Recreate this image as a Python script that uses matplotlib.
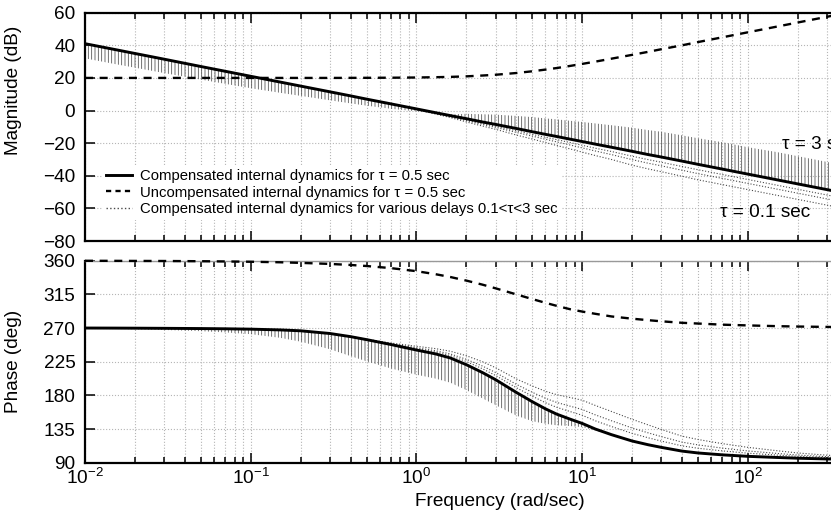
import matplotlib
matplotlib.use('Agg')
import numpy as np
import matplotlib.pyplot as plt
from matplotlib.lines import Line2D

plt.rcParams['font.family'] = ['Liberation Sans', 'DejaVu Sans']
plt.rcParams['mathtext.fontset'] = 'custom'
plt.rcParams['mathtext.rm'] = 'Liberation Sans'
plt.rcParams['mathtext.it'] = 'Liberation Sans:italic'
plt.rcParams['hatch.linewidth'] = 0.55

# ---------------- data ----------------
freq = [0.01, 0.015, 0.02, 0.03, 0.05, 0.07,
        0.1, 0.15, 0.2, 0.3, 0.4, 0.5, 0.7,
        1, 1.3, 1.6, 2, 2.5, 3, 4, 5, 6, 7, 8.5,
        10, 12, 15, 20, 25, 30, 40, 50, 70,
        100, 150, 200, 300, 400]

# compensated internal dynamics, tau = 0.5 s (solid)
mag_comp = [41, 37.5, 35, 31.5, 27, 24.1,
            21, 17.5, 15, 11.5, 9, 7, 4.1,
            1, -1.3, -3.1, -5, -7, -8.5, -11, -13, -14.6, -15.9, -17.6,
            -19, -20.6, -22.5, -25, -27, -28.5, -31, -33, -35.9,
            -39, -42.5, -45, -48.5, -51]
ph_comp = [270, 269.9, 269.8, 269.6, 269.3, 269,
           268.5, 267.5, 266.3, 262.7, 258.5, 254.5, 248,
           240.6, 235.5, 230, 221, 210.5, 201, 184, 171.5, 162, 155, 148,
           142.5, 135, 127.5, 119, 114, 110.5, 105.5, 103, 100.5,
           98.5, 97, 96, 95, 94.5]

# uncompensated internal dynamics, tau = 0.5 s (dashed)
mag_uncomp = [20, 20, 20, 20, 20, 20,
              20, 20, 20, 20, 20.04, 20.07, 20.13,
              20.26, 20.44, 20.64, 20.97, 21.47, 21.94, 23.01, 24.08, 25.12, 26.05, 27.4,
              28.6, 30, 31.8, 34.15, 36, 37.6, 40, 42, 44.9,
              48, 51.5, 54, 57.5, 60]
ph_uncomp = [359.9, 359.8, 359.7, 359.6, 359.3, 359,
             358.6, 357.9, 357.1, 355.7, 354.3, 352.9, 350.1,
             346, 342, 338.2, 333.4, 328, 323.1, 315, 308.7, 303.7, 299.7, 295,
             292, 289, 285.5, 282.5, 280.5, 279, 277, 276, 274.5,
             273.5, 272.5, 272, 271.5, 271]

# various delays, read as deviation from the solid curve
# dense band (0.5 < tau <= 3 s), outer edge = tau = 3 s
mag_dev_tau3 = [-9, -8.9, -8.7, -8.5, -8, -7.7,
                -7.3, -6.6, -6, -5.2, -4.6, -4, -3,
                -1.5, -0.3, 0.8, 3, 4.7, 6, 7.7, 9, 9.8, 10.5, 11.3,
                12, 12.7, 13.5, 14.5, 15, 15.5, 15.8, 16, 16.5,
                16.5, 17, 17, 17, 17]
ph_dev_tau3 = [-0.7, -1.1, -1.5, -2.2, -3.5, -4.8,
               -6.7, -10.5, -14.5, -21, -26, -29, -32,
               -33, -33, -33, -34, -34.5, -34, -31, -26, -20, -15, -9,
               -5, -2, 0, 0, 0, 0, 0, 0, 0,
               0, 0, 0, 0, 0]
# sparse curves (tau = 0.1, 0.2, 0.3 s)
mag_dev_tau01 = [0, 0, 0, 0, 0, 0,
                 0, 0, 0, 0, 0, 0, 0,
                 -0.5, -0.8, -1.2, -2, -2.5, -3, -4, -4.5, -5, -5.5, -6,
                 -6.5, -7, -7.5, -8.5, -8.8, -9, -9.3, -9.5, -9.5,
                 -9.5, -9.5, -9.5, -9.5, -9.5]
mag_dev_tau02 = [0, 0, 0, 0, 0, 0,
                 0, 0, 0, 0, 0, 0, 0,
                 -0.3, -0.5, -0.7, -1.2, -1.5, -1.8, -2.4, -2.7, -3, -3.3, -3.6,
                 -3.9, -4.2, -4.5, -5.1, -5.3, -5.4, -5.6, -5.7, -5.7,
                 -5.7, -5.7, -5.7, -5.7, -5.7]
mag_dev_tau03 = [0, 0, 0, 0, 0, 0,
                 0, 0, 0, 0, 0, 0, 0,
                 -0.2, -0.3, -0.4, -0.7, -0.9, -1.1, -1.4, -1.6, -1.8, -1.9, -2.1,
                 -2.3, -2.5, -2.6, -3, -3.1, -3.2, -3.3, -3.3, -3.3,
                 -3.3, -3.3, -3.3, -3.3, -3.3]
ph_dev_tau01 = [0, 0, 0, 0, 0, 0,
                0, 0, 0, 0, 0.2, 0.5, 2,
                5, 7, 9, 12, 14.5, 16, 18, 21, 23.5, 26, 29,
                31, 31.5, 31, 29, 26.5, 24, 20, 18, 15,
                12, 9, 7, 5, 4]
ph_dev_tau02 = [0, 0, 0, 0, 0, 0,
                0, 0, 0, 0, 0.1, 0.3, 1.2,
                3, 4.2, 5.4, 7.2, 8.7, 9.6, 10.8, 12.6, 14.1, 15.6, 17.4,
                18.6, 18.9, 18.6, 17.4, 15.9, 14.4, 12, 10.8, 9,
                7.2, 5.4, 4.2, 3, 2.4]
ph_dev_tau03 = [0, 0, 0, 0, 0, 0,
                0, 0, 0, 0, 0.1, 0.2, 0.7,
                1.8, 2.5, 3.2, 4.2, 5.1, 5.6, 6.3, 7.4, 8.2, 9.1, 10.2,
                10.9, 11, 10.9, 10.2, 9.3, 8.4, 7, 6.3, 5.3,
                4.2, 3.2, 2.5, 1.8, 1.4]

mag_ticks = [-80, -60, -40, -20, 0, 20, 40, 60]
ph_ticks = [90, 135, 180, 225, 270, 315, 360]

legend_labels = ['Compensated internal dynamics for τ = 0.5 sec',
                 'Uncompensated internal dynamics for τ = 0.5 sec',
                 'Compensated internal dynamics for various delays 0.1<τ<3 sec']

# ---------------- figure ----------------
W, H = 831, 521
fig = plt.figure(figsize=(W / 100, H / 100), dpi=100)
left = 85
right = 913.7
ax_m = fig.add_axes([left / W, 1 - 241 / H, (right - left) / W, (241 - 12.7) / H])
ax_p = fig.add_axes([left / W, 1 - 462.7 / H, (right - left) / W, (462.7 - 260.7) / H])

f = np.array(freq)
band_col = '#4a4a4a'
FS = 13.7
HATCH = '|||||'

def style(ax):
    ax.set_xscale('log')
    ax.set_xlim(1e-2, 1e3)
    ax.grid(True, which='major', axis='both', ls=':', color='#b5b5b5', lw=0.8)
    ax.grid(True, which='minor', axis='x', ls=':', color='#b5b5b5', lw=0.8)
    ax.tick_params(which='both', direction='in', top=True, right=True,
                   labelsize=FS, width=1.1)
    ax.tick_params(which='major', length=7, pad=7)
    ax.tick_params(which='minor', length=4)
    for s in ax.spines.values():
        s.set_linewidth(1.6)
    ax.set_axisbelow(True)

# magnitude
ax = ax_m
style(ax)
mc = np.array(mag_comp)
ax.fill_between(f, mc, mc + np.array(mag_dev_tau3), facecolor='none',
                edgecolor=band_col, hatch=HATCH, linewidth=0, zorder=2)
for dev in (mag_dev_tau01, mag_dev_tau02, mag_dev_tau03):
    ax.plot(f, mc + np.array(dev), ls=':', color=band_col, lw=0.8, zorder=2)
ax.plot(f, mag_uncomp, color='black', lw=1.7, dashes=(3.4, 2.8), zorder=3)
ax.plot(f, mag_comp, color='black', lw=2.1, zorder=4)
ax.set_ylim(-80, 60)
ax.set_yticks(mag_ticks)
ax.set_yticklabels([str(t).replace('-', '\u2212') for t in mag_ticks])
ax.tick_params(axis='x', labelbottom=False)
ax.set_ylabel('Magnitude (dB)', fontsize=FS)
ax.yaxis.set_label_coords(-0.076, 0.66)
ax.text(160.6, -21, 'τ = 3 sec', fontsize=FS, va='center', ha='left')
ax.text(67.9, -62.8, 'τ = 0.1 sec', fontsize=FS, va='center', ha='left')

handles = [Line2D([], [], color='black', lw=2.1),
           Line2D([], [], color='black', lw=1.7, dashes=(2.2, 1.8)),
           Line2D([], [], color=band_col, lw=1.0, ls=':')]
leg = ax.legend(handles, legend_labels, loc='upper left',
                bbox_to_anchor=((102 - left) / (right - left), (241 - 165) / (241 - 12.7)),
                borderaxespad=0, fontsize=10.7, handlelength=1.75,
                handletextpad=0.5, labelspacing=0.15, borderpad=0.3,
                frameon=True, fancybox=False, framealpha=1)
leg.get_frame().set_edgecolor('none')
leg.get_frame().set_facecolor('white')

# phase
ax = ax_p
style(ax)
pc = np.array(ph_comp)
ax.fill_between(f, pc, pc + np.array(ph_dev_tau3), facecolor='none',
                edgecolor=band_col, hatch=HATCH, linewidth=0, zorder=2)
for dev in (ph_dev_tau01, ph_dev_tau02, ph_dev_tau03):
    ax.plot(f, pc + np.array(dev), ls=':', color=band_col, lw=0.8, zorder=2)
ax.plot(f, ph_uncomp, color='black', lw=1.7, dashes=(3.4, 2.8), zorder=3, clip_on=False)
ax.plot(f, ph_comp, color='black', lw=2.1, zorder=4)
ax.set_ylim(90, 360)
ax.set_yticks(ph_ticks)
ax.spines['top'].set_color('#999999')
ax.spines['top'].set_linewidth(1.0)
ax.set_ylabel('Phase (deg)', fontsize=FS)
ax.yaxis.set_label_coords(-0.076, 0.5)
ax.set_xlabel('Frequency (rad/sec)', fontsize=FS, labelpad=3)
ax.tick_params(axis='x', pad=4)

fig.savefig('out.png', dpi=100)
